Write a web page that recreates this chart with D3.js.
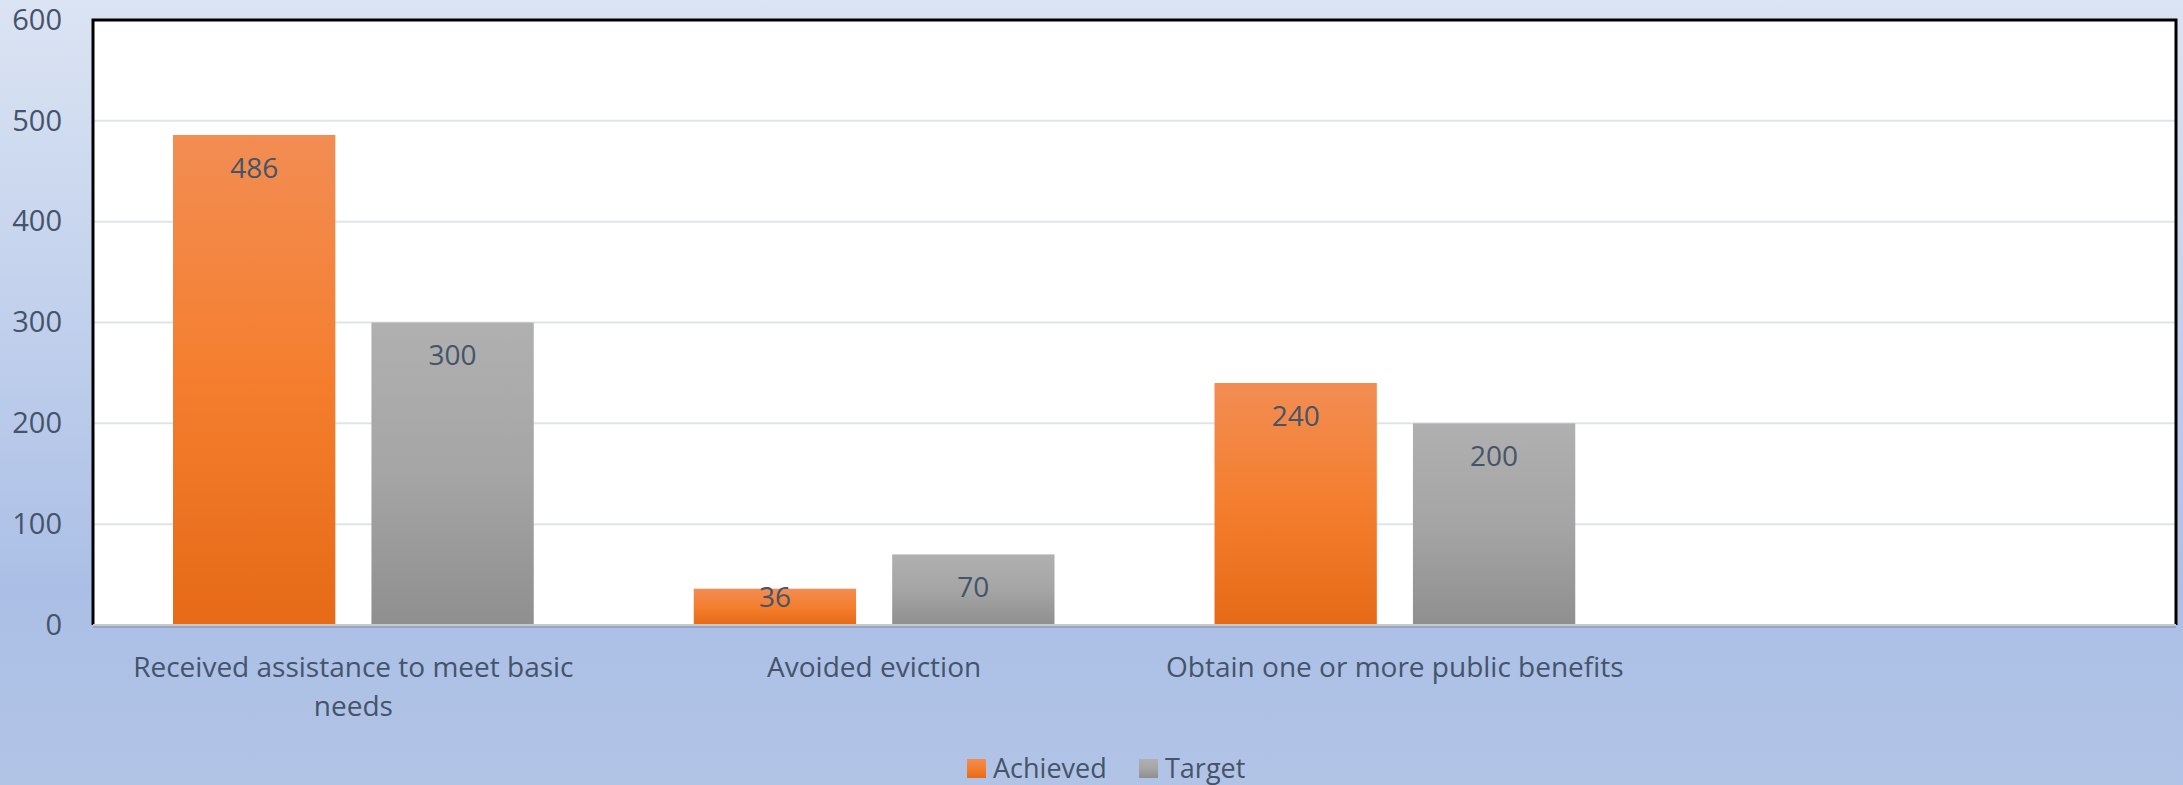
<!DOCTYPE html>
<html>
<head>
<meta charset="utf-8">
<script src="https://cdn.jsdelivr.net/npm/d3@7"></script>
<style>
  body { margin: 0; }
  text { font-family: "Open Sans", sans-serif; fill: #44546a; }
</style>
</head>
<body>
<svg id="chart" width="2183" height="785"></svg>
<script>
var categories = ["Received assistance to meet basic needs", "Avoided eviction", "Obtain one or more public benefits", ""];
var seriesNames = ["Achieved", "Target"];
var achieved = [486, 36, 240, null];
var target = [300, 70, 200, null];
var yTicks = [0, 100, 200, 300, 400, 500, 600];

var svg = d3.select("#chart"),
    W = +svg.attr("width"), H = +svg.attr("height"),
    margin = {top: 20, right: 7, bottom: 160, left: 93},
    width = W - margin.left - margin.right,
    height = H - margin.top - margin.bottom;

var defs = svg.append("defs");
var bg = defs.append("linearGradient").attr("id", "bg").attr("x1", 0).attr("y1", 0).attr("x2", 0).attr("y2", 1);
bg.append("stop").attr("offset", "0%").attr("stop-color", "#dbe4f3");
bg.append("stop").attr("offset", "75%").attr("stop-color", "#abbfe6");
bg.append("stop").attr("offset", "100%").attr("stop-color", "#b1c4e6");

var grads = {
  Achieved: ["#f28d53", "#f47e2e", "#e66a17"],
  Target: ["#b0b0b0", "#a5a5a5", "#8f8f8f"]
};
Object.keys(grads).forEach(function(k) {
  var g = defs.append("linearGradient").attr("id", "g" + k).attr("x1", 0).attr("y1", 0).attr("x2", 0).attr("y2", 1);
  g.append("stop").attr("offset", "0%").attr("stop-color", grads[k][0]);
  g.append("stop").attr("offset", "50%").attr("stop-color", grads[k][1]);
  g.append("stop").attr("offset", "100%").attr("stop-color", grads[k][2]);
});

svg.append("rect").attr("width", W).attr("height", H).attr("fill", "url(#bg)");

var g = svg.append("g").attr("transform", "translate(" + margin.left + "," + margin.top + ")");

g.append("rect").attr("width", width).attr("height", height).attr("fill", "#fff");

var x0 = d3.scaleBand().domain(d3.range(categories.length)).range([0, width]).paddingInner(0).paddingOuter(0);
var x1 = d3.scaleBand().domain(seriesNames).range([80, x0.bandwidth() - 80]).paddingInner(0.182).paddingOuter(0);
var y = d3.scaleLinear().domain([0, 600]).range([height, 0]);

// gridlines
g.append("g")
    .selectAll("line")
    .data(yTicks.slice(1))
    .enter().append("line")
    .attr("x1", 0).attr("x2", width)
    .attr("y1", function(d) { return y(d); })
    .attr("y2", function(d) { return y(d); })
    .attr("stroke", "#dfe3ea").attr("stroke-width", 2);

// y axis
var yAxis = g.append("g")
    .call(d3.axisLeft(y).tickValues(yTicks).tickSize(0).tickPadding(31));
yAxis.select(".domain").remove();
yAxis.selectAll("text").attr("font-size", 29).attr("font-family", "Open Sans").attr("fill", "#44546a");

// bars
var data = categories.map(function(c, i) {
  return {i: i, values: [{key: "Achieved", v: achieved[i]}, {key: "Target", v: target[i]}]};
});

var grp = g.selectAll(".grp")
    .data(data)
    .enter().append("g")
    .attr("transform", function(d) { return "translate(" + x0(d.i) + ",0)"; });

var bar = grp.selectAll(".bar")
    .data(function(d) { return d.values.filter(function(e) { return e.v != null; }); })
    .enter().append("g");

bar.append("rect")
    .attr("x", function(d) { return x1(d.key); })
    .attr("width", x1.bandwidth())
    .attr("y", function(d) { return y(d.v); })
    .attr("height", function(d) { return y(0) - y(d.v); })
    .attr("fill", function(d) { return "url(#g" + d.key + ")"; });

bar.append("text")
    .attr("x", function(d) { return x1(d.key) + x1.bandwidth() / 2; })
    .attr("y", function(d) { return Math.min(y(d.v) + 33, y(0) - 28); })
    .attr("dy", "0.35em")
    .attr("text-anchor", "middle")
    .attr("font-size", 28)
    .text(function(d) { return d.v; });

// plot border
g.append("path")
    .attr("d", "M0," + height + "V0H" + width + "V" + height)
    .attr("fill", "none").attr("stroke", "#000").attr("stroke-width", 3);
g.append("line").attr("x1", 0).attr("x2", width).attr("y1", height).attr("y2", height)
    .attr("stroke", "#c8c8c8").attr("stroke-width", 2);
g.append("line").attr("x1", 0).attr("x2", width).attr("y1", height + 2).attr("y2", height + 2)
    .attr("stroke", "#7f8da3").attr("stroke-width", 1);

// category labels
var xAxis = g.append("g").attr("transform", "translate(0," + height + ")");
xAxis.selectAll("text")
    .data(categories)
    .enter().append("text")
    .attr("x", function(d, i) { return x0(i) + x0.bandwidth() / 2; })
    .attr("y", 52)
    .attr("text-anchor", "middle")
    .attr("font-size", 28)
    .each(function(d) {
      var t = d3.select(this), words = d.split(" "), line = [], lines = [];
      words.forEach(function(w) {
        line.push(w);
        t.text(line.join(" "));
        if (this.getComputedTextLength() > 480 && line.length > 1) {
          line.pop(); lines.push(line.join(" ")); line = [w];
        }
      }, this);
      lines.push(line.join(" "));
      t.text(null);
      lines.forEach(function(l, k) {
        t.append("tspan").attr("x", t.attr("x")).attr("dy", k ? 39 : 0).text(l);
      });
    });

// legend
var legend = svg.append("g").attr("transform", "translate(967,759)");
var li = legend.selectAll("g").data(seriesNames).enter().append("g")
    .attr("transform", function(d, i) { return "translate(" + (i * 172) + ",0)"; });
li.append("rect").attr("width", 19).attr("height", 19)
    .attr("fill", function(d) { return "url(#g" + d + ")"; });
li.append("text").attr("x", 26).attr("y", 10).attr("dy", "0.35em")
    .attr("font-size", 27).text(function(d) { return d; });
</script>
</body>
</html>
